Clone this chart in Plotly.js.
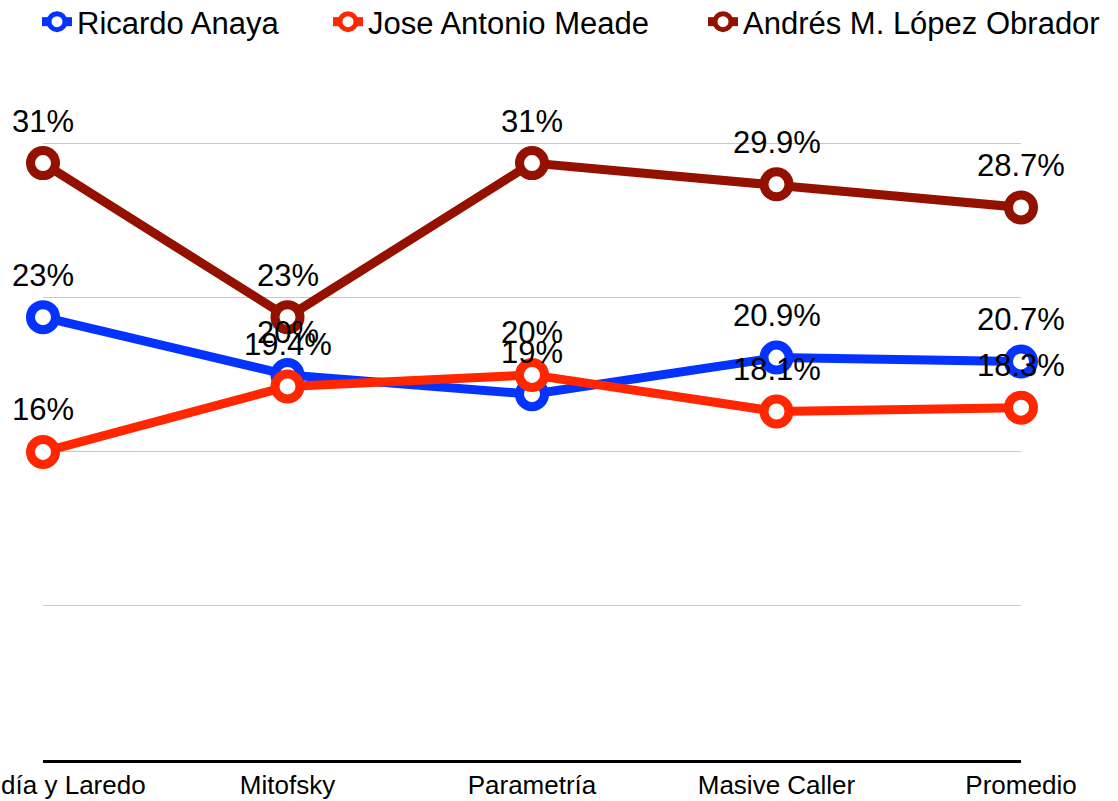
<!DOCTYPE html>
<html>
<head>
<meta charset="utf-8">
<script src="https://cdn.plot.ly/plotly-3.0.1.min.js"></script>
<style>html,body{margin:0;padding:0;background:#fff;}#chart{width:1118px;height:801px;}</style>
</head>
<body>
<div id="chart"></div>
<script>
const categories = ["Buendía y Laredo", "Mitofsky", "Parametría", "Masive Caller", "Promedio"];
const anaya = [23, 20, 19, 20.9, 20.7];
const meade = [16, 19.4, 20, 18.1, 18.3];
const amlo = [31, 23, 31, 29.9, 28.7];
const seriesNames = ["Ricardo Anaya", "Jose Antonio Meade", "Andrés M. López Obrador"];
const seriesColors = ["#0433ff", "#ff2600", "#941100"];
const seriesValues = [anaya, meade, amlo];
const gridValues = [0, 8, 16, 24, 32];

const FONT = "Liberation Sans, Arial, Helvetica, sans-serif";
const legendIds = ["legend", "legend2", "legend3"];
const legendTextStart = [77, 368, 743];

const traces = seriesValues.map((vals, i) => ({
  type: "scatter",
  mode: "lines+markers",
  name: seriesNames[i],
  legend: legendIds[i],
  x: categories,
  y: vals,
  cliponaxis: false,
  line: {color: seriesColors[i], width: 9},
  marker: {symbol: "circle", size: 25, color: "#fff", line: {color: seriesColors[i], width: 9}},
  hoverinfo: "skip"
}));

const annotations = [];
seriesValues.forEach((vals) => {
  vals.forEach((v, j) => {
    annotations.push({
      x: categories[j], y: v, xref: "x", yref: "y",
      text: v + "%",
      showarrow: false,
      xanchor: "center", yanchor: "middle",
      yshift: 42,
      font: {family: FONT, size: 31, color: "#000"}
    });
  });
});

const M = {l: 43, r: 97, t: 140, b: 41};
const plotH = 801 - M.t - M.b;

const layout = {
  width: 1118,
  height: 801,
  margin: {l: M.l, r: M.r, t: M.t, b: M.b, autoexpand: false},
  paper_bgcolor: "#fff",
  plot_bgcolor: "#fff",
  font: {family: FONT, color: "#000"},
  showlegend: true,
  annotations: annotations,
  xaxis: {
    type: "category",
    range: [0, 4],
    showgrid: false,
    zeroline: false,
    showline: true,
    linecolor: "#000",
    linewidth: 3,
    ticks: "",
    tickfont: {family: FONT, size: 26, color: "#000"},
    fixedrange: true
  },
  yaxis: {
    range: [0, 32.2],
    tickvals: gridValues,
    showticklabels: false,
    showgrid: true,
    gridcolor: "#c8c8c8",
    gridwidth: 1,
    zeroline: false,
    showline: false,
    ticks: "",
    fixedrange: true
  }
};

legendIds.forEach((id, i) => {
  layout[id] = {
    orientation: "h",
    xref: "container", yref: "paper",
    x: (legendTextStart[i] - 40) / 1118,
    y: (801 - M.b + 5) / plotH,
    xanchor: "left", yanchor: "top",
    font: {family: FONT, size: 31, color: "#000"},
    itemwidth: 30,
    bgcolor: "rgba(0,0,0,0)"
  };
});

Plotly.newPlot("chart", traces, layout, {displayModeBar: false, staticPlot: true});
</script>
</body>
</html>
